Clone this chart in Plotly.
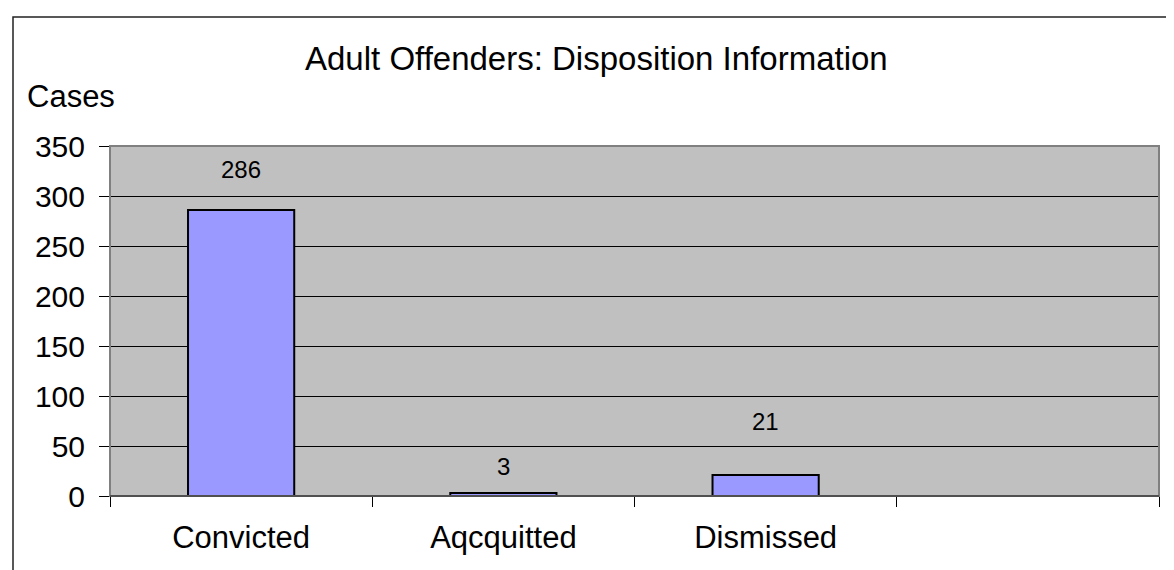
import plotly.graph_objects as go

categories = ["Convicted", "Aqcquitted", "Dismissed", " "]
cases = [286, 3, 21, None]
label_shift_px = [41, 27, 54]
y_tick_vals = [0, 50, 100, 150, 200, 250, 300, 350]

FONT = "Liberation Sans, Arial, sans-serif"
W, H = 1174, 570
L, R, T, B = 102, 23, 138, 82
PW, PH = W - L - R, H - T - B


def px_x(px):
    return (px - L) / PW


def px_y(py):
    return (H - B - py) / PH


fig = go.Figure()
fig.add_trace(go.Bar(
    x=categories, y=cases,
    marker=dict(color="#9999FF", line=dict(color="#000000", width=2)),
    width=0.405, hoverinfo="skip", showlegend=False,
))

annotations = []
for c, v, s in zip(categories, cases, label_shift_px):
    annotations.append(dict(
        x=c, y=v, xref="x", yref="y", text=str(v), showarrow=False,
        yshift=s, yanchor="middle", xanchor="center",
        font=dict(family=FONT, size=24, color="#000"),
    ))
annotations.append(dict(
    x=px_x(588), y=px_y(51), xref="paper", yref="paper",
    text="Adult Offenders: Disposition Information", showarrow=False,
    xanchor="center", yanchor="middle",
    font=dict(family=FONT, size=33, color="#000"),
))
annotations.append(dict(
    x=px_x(17), y=px_y(88), xref="paper", yref="paper",
    text="Cases", showarrow=False, xanchor="left", yanchor="middle",
    font=dict(family=FONT, size=31, color="#000"),
))

shapes = [
    # plot area border
    dict(type="rect", xref="paper", yref="paper", x0=0, y0=0, x1=1, y1=1,
         line=dict(color="#808080", width=2), layer="above"),
    # x axis baseline
    dict(type="line", xref="paper", yref="paper", x0=0, y0=0, x1=1, y1=0,
         line=dict(color="#404040", width=1.5), layer="above"),
    # outer chart border
    dict(type="rect", xref="paper", yref="paper",
         x0=px_x(5), y0=px_y(578), x1=px_x(1180), y1=px_y(9),
         line=dict(color="#222222", width=1.5), layer="above"),
]

fig.update_layout(
    width=W, height=H,
    margin=dict(l=L, r=R, t=T, b=B, pad=0),
    paper_bgcolor="white", plot_bgcolor="#C0C0C0",
    bargap=0.595,
    showlegend=False,
    annotations=annotations,
    shapes=shapes,
    font=dict(family=FONT, color="#000"),
)
fig.update_xaxes(
    type="category", categoryorder="array", categoryarray=categories,
    range=[-0.5, 3.5], showgrid=False, zeroline=False, showline=False,
    ticks="outside", tickson="boundaries", ticklen=10, tickcolor="#000",
    tickwidth=1, tickfont=dict(family=FONT, size=31, color="#000"),
    ticklabelstandoff=20,
)
fig.update_yaxes(
    range=[0, 350], tickvals=y_tick_vals, showgrid=True, gridcolor="#000",
    gridwidth=1, zeroline=False, showline=False,
    ticks="outside", ticklen=10, tickcolor="#000", tickwidth=1,
    tickfont=dict(family=FONT, size=30, color="#000"),
    ticklabelstandoff=8,
)

fig.write_html("out.html")
